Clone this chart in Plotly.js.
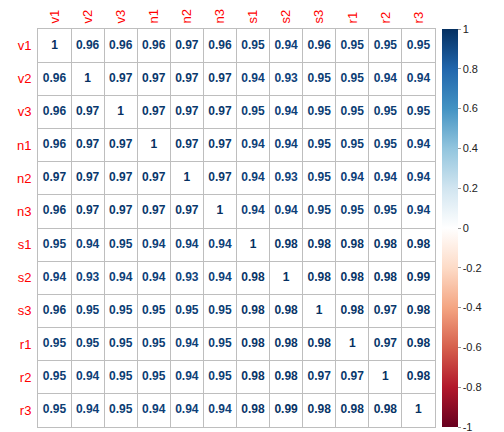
<!DOCTYPE html>
<html>
<head>
<meta charset="utf-8">
<script src="https://cdn.plot.ly/plotly-3.0.1.min.js"></script>
<style>html,body{margin:0;padding:0;background:#fff;}#chart{width:504px;height:432px;}</style>
</head>
<body>
<div id="chart"></div>
<script>
var labels = ["v1","v2","v3","n1","n2","n3","s1","s2","s3","r1","r2","r3"];
var corr = [
  [1,0.96,0.96,0.96,0.97,0.96,0.95,0.94,0.96,0.95,0.95,0.95],
  [0.96,1,0.97,0.97,0.97,0.97,0.94,0.93,0.95,0.95,0.94,0.94],
  [0.96,0.97,1,0.97,0.97,0.97,0.95,0.94,0.95,0.95,0.95,0.95],
  [0.96,0.97,0.97,1,0.97,0.97,0.94,0.94,0.95,0.95,0.95,0.94],
  [0.97,0.97,0.97,0.97,1,0.97,0.94,0.93,0.95,0.94,0.94,0.94],
  [0.96,0.97,0.97,0.97,0.97,1,0.94,0.94,0.95,0.95,0.95,0.94],
  [0.95,0.94,0.95,0.94,0.94,0.94,1,0.98,0.98,0.98,0.98,0.98],
  [0.94,0.93,0.94,0.94,0.93,0.94,0.98,1,0.98,0.98,0.98,0.99],
  [0.96,0.95,0.95,0.95,0.95,0.95,0.98,0.98,1,0.98,0.97,0.98],
  [0.95,0.95,0.95,0.95,0.94,0.95,0.98,0.98,0.98,1,0.97,0.98],
  [0.95,0.94,0.95,0.95,0.94,0.95,0.98,0.98,0.97,0.97,1,0.98],
  [0.95,0.94,0.95,0.94,0.94,0.94,0.98,0.99,0.98,0.98,0.98,1]
];
var cbTicks = [-1,-0.8,-0.6,-0.4,-0.2,0,0.2,0.4,0.6,0.8,1];
var cbLabels = ["-1","-0.8","-0.6","-0.4","-0.2","0","0.2","0.4","0.6","0.8","1"];
var palette = ["#67001F","#B2182B","#D6604D","#F4A582","#FDDBC7","#FFFFFF","#D1E5F0","#92C5DE","#4393C3","#2166AC","#053061"];

var colorscale = palette.map(function(c,i){return [i/(palette.length-1), c];});
function hex2rgb(h){return [parseInt(h.substr(1,2),16),parseInt(h.substr(3,2),16),parseInt(h.substr(5,2),16)];}
function colorFor(v){
  var t = (v+1)/2*(palette.length-1);
  var i = Math.min(Math.floor(t), palette.length-2);
  var f = t - i;
  var a = hex2rgb(palette[i]), b = hex2rgb(palette[i+1]);
  var r = a.map(function(x,k){return Math.round(x+(b[k]-x)*f);});
  return "rgb("+r.join(",")+")";
}

var xs=[], ys=[], vals=[], txt=[], cols=[];
for (var r=0;r<labels.length;r++){
  for (var c=0;c<labels.length;c++){
    var v = corr[r][c];
    xs.push(labels[c]); ys.push(labels[r]); vals.push(v);
    txt.push(v===1 ? "1" : v.toFixed(2));
    cols.push(colorFor(v));
  }
}

var trace = {
  type:"scatter", mode:"markers+text",
  x:xs, y:ys, text:txt, textposition:"middle center",
  textfont:{family:"Liberation Sans, Arial, sans-serif", size:12, weight:"bold", color:cols},
  marker:{color:vals, colorscale:colorscale, cmin:-1, cmax:1, opacity:0, size:1,
    showscale:true,
    colorbar:{x:1.0176, xanchor:"left", xpad:0, ypad:0, y:0.5, yanchor:"middle", len:1, lenmode:"fraction",
      thickness:16, outlinewidth:0, ticks:"outside", ticklen:3, tickcolor:"#999", tickwidth:1,
      tickvals:cbTicks, ticktext:cbLabels, automargin:false, ticklabeloverflow:"allow",
      tickfont:{family:"Liberation Sans, Arial, sans-serif", size:11, color:"#222"}}},
  hoverinfo:"none", cliponaxis:false
};

var axisCommon = {
  type:"category", categoryorder:"array", categoryarray:labels,
  tickson:"boundaries", showgrid:true, gridcolor:"#BEBEBE", gridwidth:1,
  showline:true, mirror:true, linecolor:"#BEBEBE", linewidth:1,
  ticks:"", zeroline:false, fixedrange:true,
  tickfont:{family:"Liberation Sans, Arial, sans-serif", size:13, color:"#FF0000"}
};
var layout = {
  width:504, height:432,
  margin:{l:38, r:69, t:29, b:5},
  paper_bgcolor:"#fff", plot_bgcolor:"#fff",
  showlegend:false,
  xaxis:Object.assign({}, axisCommon, {side:"top", tickangle:-90, range:[-0.5,11.5], ticklabelstandoff:2}),
  yaxis:Object.assign({}, axisCommon, {autorange:false, range:[11.5,-0.5], ticklabelstandoff:3})
};
Plotly.newPlot("chart",[trace],layout,{displayModeBar:false, staticPlot:true});
</script>
</body>
</html>
